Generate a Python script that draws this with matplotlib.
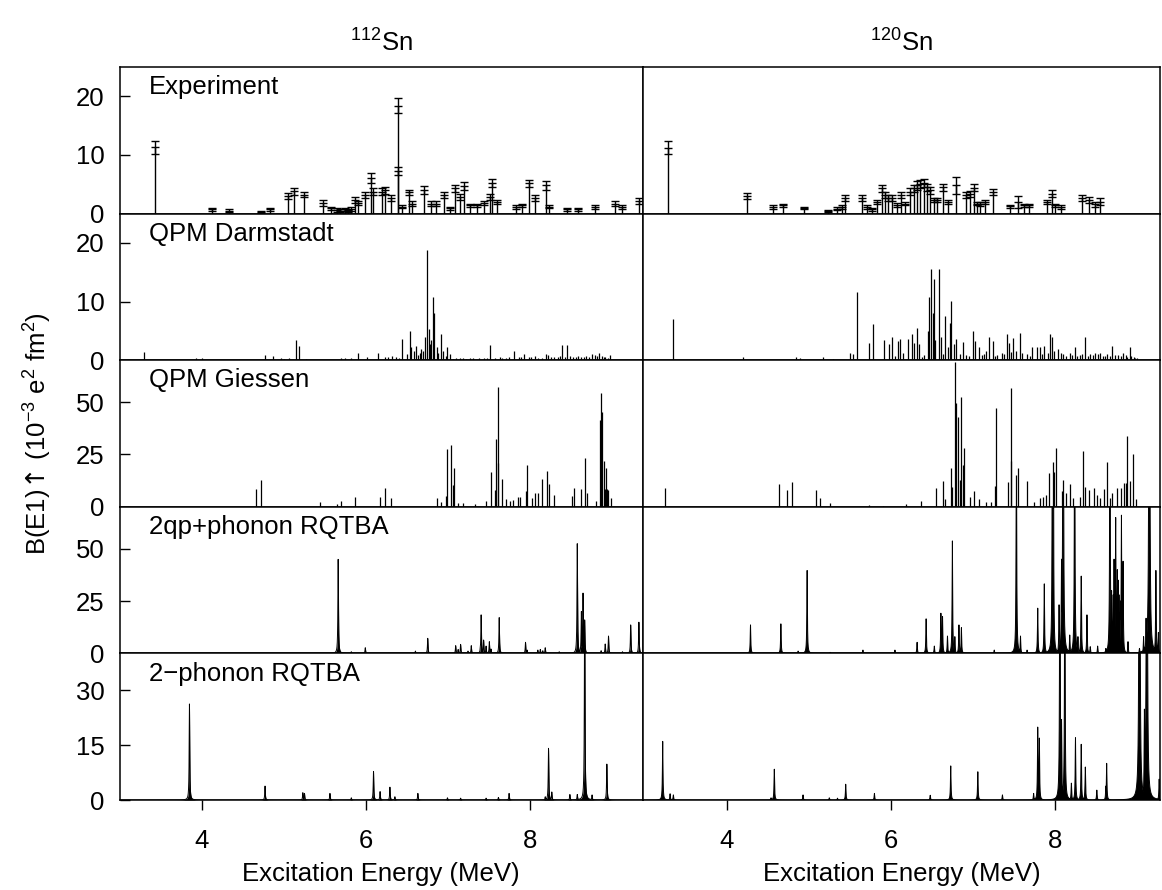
#!/usr/bin/env python3

"""
E1 strength below the neutron threshold in 112Sn and 120Sn:
experiment against QPM and RQTBA calculations.
"""

import numpy as np
import matplotlib
matplotlib.use('Agg')
import matplotlib.pyplot as plt

# Experiment, 112Sn: energy (MeV), B(E1) (1e-3 e2fm2), error
exp112_e = [3.43, 4.13, 4.33, 4.72, 4.83, 5.05, 5.12, 5.25, 5.48, 5.57,
            5.64, 5.68, 5.74, 5.78, 5.82, 5.86, 5.90, 5.99, 6.06, 6.09,
            6.19, 6.23, 6.30, 6.39, 6.39, 6.44, 6.52, 6.56, 6.70, 6.79,
            6.85, 6.95, 7.02, 7.08, 7.14, 7.19, 7.26, 7.35, 7.43, 7.51,
            7.53, 7.59, 7.82, 7.90, 7.98, 8.05, 8.19, 8.23, 8.44, 8.58,
            8.79, 9.03, 9.12, 9.32]
exp112_b = [11.3, 0.7, 0.5, 0.3, 0.7, 3.0, 3.8, 3.2, 1.8, 0.9,
            0.6, 0.5, 0.7, 0.4, 0.8, 2.3, 1.8, 3.1, 6.1, 3.7,
            3.7, 4.0, 2.6, 18.4, 7.3, 1.2, 3.6, 1.7, 4.0, 1.7,
            1.7, 3.1, 0.9, 4.3, 2.8, 4.7, 1.4, 1.4, 1.8, 2.8,
            5.2, 2.0, 1.1, 1.4, 5.2, 2.7, 4.8, 1.2, 0.7, 0.7,
            1.1, 1.7, 1.1, 2.1]
exp112_err = [1.1, 0.3, 0.3, 0.2, 0.3, 0.5, 0.6, 0.4, 0.5, 0.3,
              0.3, 0.2, 0.3, 0.2, 0.3, 0.5, 0.4, 0.5, 0.8, 0.6,
              0.6, 0.6, 0.5, 1.3, 0.7, 0.3, 0.5, 0.4, 0.7, 0.4,
              0.4, 0.5, 0.3, 0.6, 0.5, 0.7, 0.3, 0.3, 0.4, 0.5,
              0.7, 0.4, 0.3, 0.3, 0.6, 0.5, 0.7, 0.3, 0.3, 0.3,
              0.3, 0.4, 0.3, 0.5]

# Experiment, 120Sn
exp120_e = [3.28, 4.25, 4.56, 4.68, 4.94, 5.24, 5.34, 5.40, 5.44, 5.65,
            5.71, 5.77, 5.83, 5.89, 5.93, 5.97, 6.01, 6.07, 6.13, 6.17,
            6.23, 6.28, 6.32, 6.36, 6.40, 6.44, 6.48, 6.52, 6.56, 6.64,
            6.70, 6.80, 6.91, 6.97, 7.01, 7.05, 7.09, 7.15, 7.24, 7.45,
            7.55, 7.62, 7.68, 7.90, 7.97, 8.00, 8.07, 8.33, 8.41, 8.49,
            8.55]
exp120_b = [11.2, 3.0, 1.1, 1.4, 1.0, 0.4, 0.85, 1.1, 2.6, 2.7,
            1.1, 0.7, 2.0, 4.3, 3.1, 2.7, 2.7, 1.5, 3.1, 1.7,
            3.7, 4.3, 4.8, 5.1, 5.2, 4.5, 4.0, 2.3, 2.3, 4.5,
            2.0, 4.8, 3.2, 3.4, 4.4, 1.7, 1.6, 2.0, 3.7, 1.25,
            2.0, 1.4, 1.4, 2.0, 3.4, 1.4, 1.1, 2.6, 2.3, 1.6,
            2.0]
exp120_err = [1.1, 0.5, 0.3, 0.3, 0.2, 0.2, 0.3, 0.3, 0.5, 0.5,
              0.3, 0.2, 0.4, 0.6, 0.5, 0.5, 0.5, 0.3, 0.5, 0.3,
              0.6, 0.6, 0.7, 0.7, 0.7, 0.6, 0.6, 0.4, 0.4, 0.6,
              0.4, 1.4, 0.5, 0.5, 0.6, 0.3, 0.3, 0.4, 0.5, 0.3,
              1.0, 0.3, 0.3, 0.4, 0.6, 0.3, 0.3, 0.5, 0.5, 0.4,
              0.6]

# QPM Darmstadt
dar112_e = [3.30, 3.93, 4.00, 4.77, 4.87, 4.96, 5.00, 5.06, 5.15, 5.18,
            5.27, 5.70, 5.74, 5.82, 5.90, 6.01, 6.15, 6.23, 6.27, 6.32,
            6.36, 6.40, 6.44, 6.50, 6.53, 6.55, 6.58, 6.61, 6.63, 6.65,
            6.67, 6.69, 6.72, 6.74, 6.76, 6.78, 6.79, 6.81, 6.83, 6.86,
            6.88, 6.91, 6.94, 6.97, 6.99, 7.02, 7.06, 7.10, 7.14, 7.18,
            7.22, 7.26, 7.30, 7.37, 7.43, 7.47, 7.51, 7.57, 7.63, 7.66,
            7.70, 7.74, 7.80, 7.86, 7.89, 7.92, 7.98, 8.01, 8.05, 8.09,
            8.14, 8.19, 8.21, 8.25, 8.29, 8.33, 8.36, 8.39, 8.42, 8.45,
            8.48, 8.52, 8.55, 8.58, 8.62, 8.65, 8.68, 8.71, 8.75, 8.79,
            8.81, 8.84, 8.87, 8.89, 8.91, 8.94, 8.97]
dar112_b = [1.4, 0.3, 0.35, 0.9, 0.7, 0.3, 0.2, 0.3, 3.4, 2.4,
            0.2, 0.3, 0.3, 0.4, 1.2, 0.6, 1.3, 0.6, 0.5, 0.8,
            0.6, 0.4, 3.7, 1.1, 5.0, 2.3, 1.6, 2.4, 0.9, 1.3,
            1.9, 1.5, 4.0, 18.75, 5.3, 2.8, 3.4, 10.8, 8.0, 2.2,
            1.2, 4.5, 1.6, 0.8, 2.3, 1.0, 0.2, 0.3, 0.3, 0.3,
            0.2, 0.4, 0.3, 0.3, 0.4, 0.3, 2.6, 0.4, 0.5, 0.3,
            0.4, 0.6, 1.5, 0.5, 0.6, 1.0, 0.5, 0.5, 0.8, 0.4,
            0.4, 1.1, 0.9, 0.5, 0.6, 0.5, 0.7, 2.6, 0.5, 2.6,
            0.8, 0.6, 0.5, 0.7, 0.5, 0.6, 0.8, 0.5, 1.0, 0.9,
            0.7, 1.2, 0.8, 0.5, 0.6, 0.4, 0.9]

dar120_e = [3.35, 4.20, 4.85, 4.89, 5.17, 5.29, 5.50, 5.54, 5.59, 5.74,
            5.78, 5.92, 5.98, 6.02, 6.05, 6.09, 6.11, 6.15, 6.21, 6.26,
            6.28, 6.32, 6.34, 6.38, 6.40, 6.45, 6.47, 6.49, 6.51, 6.52,
            6.54, 6.59, 6.61, 6.63, 6.66, 6.70, 6.72, 6.73, 6.77, 6.79,
            6.84, 6.88, 6.92, 6.95, 7.00, 7.03, 7.07, 7.11, 7.13, 7.16,
            7.20, 7.24, 7.27, 7.29, 7.35, 7.38, 7.41, 7.44, 7.46, 7.49,
            7.53, 7.57, 7.60, 7.66, 7.70, 7.72, 7.78, 7.82, 7.84, 7.87,
            7.91, 7.94, 7.97, 7.99, 8.04, 8.07, 8.10, 8.13, 8.18, 8.21,
            8.24, 8.27, 8.30, 8.33, 8.37, 8.40, 8.43, 8.46, 8.49, 8.52,
            8.55, 8.58, 8.61, 8.64, 8.67, 8.70, 8.73, 8.77, 8.80, 8.83,
            8.86, 8.88, 8.91, 8.93, 8.96, 8.98, 9.00]
dar120_b = [7.0, 0.6, 0.6, 0.4, 0.5, 0.2, 1.3, 1.1, 11.6, 2.9,
            6.1, 3.5, 2.8, 4.0, 0.7, 3.3, 3.6, 1.3, 3.6, 4.5,
            3.0, 5.5, 2.8, 0.6, 0.9, 4.9, 10.8, 15.5, 8.1, 13.8,
            3.4, 15.5, 3.9, 1.0, 7.6, 2.3, 6.3, 10.1, 2.7, 3.7,
            1.1, 3.1, 0.9, 0.8, 5.0, 3.3, 2.3, 0.9, 1.0, 1.6,
            3.9, 3.3, 0.8, 0.9, 1.3, 1.0, 4.4, 3.0, 1.4, 3.75,
            1.5, 4.7, 1.2, 1.0, 0.8, 2.3, 2.2, 2.3, 1.1, 2.4,
            1.3, 4.5, 3.9, 1.5, 1.9, 1.2, 1.0, 0.7, 1.2, 0.9,
            2.2, 0.8, 0.9, 1.1, 3.9, 0.7, 1.0, 0.9, 1.2, 1.0,
            1.3, 0.8, 0.8, 1.1, 0.7, 2.4, 0.9, 0.9, 0.8, 1.3,
            0.9, 0.5, 2.2, 0.7, 0.6, 0.4, 0.3]

# QPM Giessen
gie112_e = [4.66, 4.72, 5.44, 5.64, 5.69, 5.86, 6.17, 6.23, 6.30, 6.86,
            6.91, 6.97, 6.98, 7.03, 7.06, 7.07, 7.12, 7.18, 7.32, 7.46,
            7.52, 7.57, 7.58, 7.60, 7.61, 7.65, 7.70, 7.75, 7.79, 7.85,
            7.87, 7.94, 7.96, 8.02, 8.05, 8.09, 8.14, 8.20, 8.22, 8.29,
            8.51, 8.53, 8.62, 8.67, 8.69, 8.80, 8.85, 8.86, 8.87, 8.89,
            8.91, 8.92, 8.93, 8.95, 8.98]
gie112_b = [8.3, 12.7, 2.4, 1.1, 2.7, 4.6, 4.8, 9.1, 4.0, 4.3,
            2.4, 5.1, 27.5, 29.5, 10.4, 18.3, 1.9, 1.6, 1.1, 2.9,
            16.4, 8.0, 32.3, 20.7, 57.3, 13.5, 3.5, 2.7, 3.2, 4.8,
            4.8, 7.6, 19.9, 4.3, 6.4, 6.4, 13.2, 16.9, 10.7, 5.6,
            5.1, 9.2, 8.4, 23.1, 6.4, 2.7, 41.4, 54.1, 45.4, 21.8,
            8.3, 18.6, 8.3, 8.0, 4.0]

gie120_e = [3.25, 4.64, 4.73, 4.79, 5.09, 5.14, 5.26, 5.73, 5.91, 6.19,
            6.37, 6.55, 6.64, 6.66, 6.73, 6.74, 6.78, 6.79, 6.82, 6.84,
            6.86, 6.88, 6.89, 6.97, 7.01, 7.08, 7.16, 7.22, 7.27, 7.28,
            7.43, 7.46, 7.47, 7.53, 7.55, 7.66, 7.74, 7.82, 7.86, 7.89,
            7.93, 7.98, 7.99, 8.01, 8.08, 8.10, 8.14, 8.18, 8.22, 8.31,
            8.34, 8.37, 8.42, 8.48, 8.51, 8.55, 8.60, 8.63, 8.67, 8.70,
            8.75, 8.81, 8.84, 8.86, 8.88, 8.92, 8.95, 8.99]
gie120_b = [9.1, 10.7, 8.0, 11.9, 8.0, 4.0, 1.6, 0.8, 0.5, 1.1,
            2.7, 8.8, 12.3, 3.7, 18.6, 9.5, 69.0, 49.4, 42.7, 12.7,
            52.5, 19.9, 27.9, 4.8, 7.5, 3.5, 2.4, 2.4, 10.0, 47.3,
            11.9, 56.8, 21.8, 15.4, 18.3, 12.3, 2.4, 4.3, 4.8, 5.6,
            16.2, 21.5, 16.7, 27.9, 7.5, 12.7, 6.4, 11.1, 4.0, 4.8,
            26.6, 9.6, 8.0, 9.2, 5.6, 4.0, 8.4, 21.2, 4.0, 6.4,
            8.8, 8.8, 11.5, 11.5, 33.8, 12.3, 25.0, 3.5]

# RQTBA, 2qp+phonon
qp112_e = [5.66, 5.82, 5.99, 6.60, 6.75, 7.09, 7.12, 7.15, 7.24, 7.28,
           7.39, 7.40, 7.43, 7.46, 7.50, 7.52, 7.62, 7.94, 7.96, 8.09,
           8.12, 8.15, 8.18, 8.35, 8.57, 8.62, 8.64, 8.66, 8.86, 8.91,
           8.95, 9.12, 9.22, 9.32]
qp112_b = [44.9, 0.8, 2.7, 1.1, 7.2, 3.7, 1.9, 4.3, 1.1, 3.7,
           3.2, 18.4, 6.4, 3.5, 5.6, 2.1, 17.1, 5.3, 1.6, 1.6,
           1.9, 1.3, 2.7, 0.8, 52.4, 20.0, 28.8, 16.0, 1.3, 4.5,
           8.3, 0.8, 13.6, 14.9]

qp120_e = [4.29, 4.66, 4.87, 4.98, 5.26, 5.66, 6.05, 6.32, 6.43, 6.53,
           6.61, 6.63, 6.69, 6.75, 6.78, 6.83, 6.86, 7.26, 7.53, 7.58,
           7.66, 7.79, 7.87, 7.97, 7.98, 8.05, 8.08, 8.10, 8.18, 8.24,
           8.28, 8.32, 8.39, 8.43, 8.52, 8.62, 8.67, 8.69, 8.71, 8.72,
           8.74, 8.76, 8.77, 8.78, 8.80, 8.81, 8.83, 8.89, 9.03, 9.08,
           9.11, 9.15, 9.23, 9.26]
qp120_b = [13.6, 14.1, 1.1, 39.6, 0.5, 1.6, 1.6, 5.3, 16.5, 3.5,
           19.2, 17.6, 8.3, 53.7, 8.0, 13.6, 12.3, 1.6, 120.0, 8.3,
           1.6, 21.6, 33.2, 200.0, 150.0, 23.2, 45.0, 300.0, 8.8, 150.0,
           8.0, 36.9, 18.4, 3.2, 3.5, 2.4, 150.0, 30.0, 28.0, 45.0,
           64.9, 40.0, 35.0, 28.0, 25.0, 66.0, 44.0, 5.6, 2.4, 8.0,
           16.8, 500.0, 39.6, 10.0]

# RQTBA, 2-phonon
ph112_e = [3.85, 4.77, 5.23, 5.25, 5.56, 5.82, 6.09, 6.17, 6.29, 6.35,
           6.63, 6.99, 7.15, 7.46, 7.61, 7.74, 8.18, 8.22, 8.26, 8.48,
           8.57, 8.66, 8.67, 8.75, 8.93]
ph112_b = [26.2, 3.8, 2.0, 1.8, 1.8, 0.6, 7.8, 2.3, 3.5, 0.9,
           1.8, 0.6, 0.5, 0.5, 0.7, 1.8, 0.9, 14.1, 2.2, 1.5,
           1.5, 60.0, 7.0, 1.4, 9.8]

ph120_e = [3.22, 3.31, 3.35, 4.54, 4.58, 4.93, 5.25, 5.35, 5.45, 5.80,
           6.48, 6.73, 7.06, 7.36, 7.74, 7.79, 7.81, 8.06, 8.08, 8.12,
           8.20, 8.25, 8.32, 8.37, 8.51, 8.62, 8.63, 9.03, 9.09, 9.12,
           9.27]
ph120_b = [16.0, 1.7, 1.4, 0.6, 8.4, 1.4, 0.6, 0.5, 4.3, 1.8,
           1.3, 9.3, 7.7, 1.4, 1.8, 19.9, 16.9, 100.0, 22.0, 80.0,
           4.6, 17.0, 15.2, 9.0, 2.7, 3.8, 10.0, 300.0, 24.8, 300.0,
           5.7]

row_labels = ['Experiment', 'QPM Darmstadt', 'QPM Giessen',
              '2qp+phonon RQTBA', '2\u2212phonon RQTBA']
row_ylim = [25, 25, 70, 70, 40]
row_yticks = [[0, 10, 20], [0, 10, 20], [0, 25, 50], [0, 25, 50], [0, 15, 30]]
col_titles = ['${}^{112}$Sn', '${}^{120}$Sn']
col_xlim = [(3.0, 9.37), (2.98, 9.28)]
xticks = [4, 6, 8]

FS = 18.5


def experiment(ax, e, b, err):
	""" Stick plus error bar for each measured level """
	ax.vlines(e, 0, b, color='black', lw=1.0)
	ax.errorbar(e, b, yerr=err, fmt='_', ms=6, mew=1.0, color='black',
	            ecolor='black', elinewidth=1.0, capsize=3, capthick=1.0)


def sticks(ax, e, b):
	ax.vlines(e, 0, b, color='black', lw=0.9)


def smeared(ax, e, b, width=0.004):
	""" Narrow Lorentzian per state, peak height = B(E1) of the state """
	grid = np.linspace(2.9, 9.45, 13101)
	y = np.zeros_like(grid)
	for ei, bi in zip(e, b):
		y = np.maximum(y, bi * width**2 / ((grid - ei)**2 + width**2))
	ax.fill_between(grid, 0, y, color='black', lw=0)
	ax.plot(grid, y, color='black', lw=0.7)


def main():
	plt.rcParams['font.family'] = ['Liberation Sans', 'DejaVu Sans']
	plt.rcParams['mathtext.fontset'] = 'custom'
	plt.rcParams['mathtext.rm'] = 'Liberation Sans'
	plt.rcParams['mathtext.it'] = 'Liberation Sans:italic'
	plt.rcParams['mathtext.bf'] = 'Liberation Sans:bold'
	plt.rcParams['mathtext.sf'] = 'DejaVu Sans'
	plt.rcParams['font.size'] = FS

	fig = plt.figure(figsize=(11.62, 8.90), dpi=100)
	gs = fig.add_gridspec(5, 2, left=119.6 / 1162, right=1160 / 1162,
	                      top=1 - 67 / 890, bottom=1 - 800 / 890,
	                      wspace=0, hspace=0, width_ratios=[523.4, 517])

	data = [
		[(exp112_e, exp112_b, exp112_err), (exp120_e, exp120_b, exp120_err)],
		[(dar112_e, dar112_b), (dar120_e, dar120_b)],
		[(gie112_e, gie112_b), (gie120_e, gie120_b)],
		[(qp112_e, qp112_b), (qp120_e, qp120_b)],
		[(ph112_e, ph112_b), (ph120_e, ph120_b)],
	]

	for row in range(5):
		for col in range(2):
			ax = fig.add_subplot(gs[row, col])
			d = data[row][col]
			if row == 0:
				experiment(ax, *d)
			elif row < 3:
				sticks(ax, *d)
			else:
				smeared(ax, *d)

			ax.set_xlim(*col_xlim[col])
			ax.set_ylim(0, row_ylim[row])
			for s in ax.spines.values():
				s.set_linewidth(1.1)

			ax.set_yticks(row_yticks[row])
			ax.tick_params(axis='y', direction='in', length=7, width=1.0,
			               pad=11, labelsize=FS)
			if col == 1:
				ax.tick_params(axis='y', left=False, labelleft=False)

			ax.set_xticks(xticks)
			if row == 4:
				ax.tick_params(axis='x', direction='out', length=7, width=1.0,
				               pad=14, labelsize=FS)
				ax.set_xlabel('Excitation Energy (MeV)', fontsize=FS,
				              labelpad=6)
			else:
				ax.tick_params(axis='x', bottom=False, labelbottom=False)

			if col == 0:
				ax.text(0.056, 0.815, row_labels[row], transform=ax.transAxes,
				        fontsize=FS, ha='left', va='baseline')
			if row == 0:
				ax.text(0.5, 1 + (67 - 52) / 146.6, col_titles[col],
				        transform=ax.transAxes, fontsize=FS,
				        ha='center', va='baseline')

	fig.text(38 / 1162, 1 - 434 / 890,
	         r'B(E1)$\!\mathsf{\uparrow}\!$ (10$^{-3}$ e$^{2}$ fm$^{2}$)',
	         rotation=90, ha='center', va='center', fontsize=FS)

	fig.savefig('out.png', dpi=100)


if __name__ == '__main__':
	main()
